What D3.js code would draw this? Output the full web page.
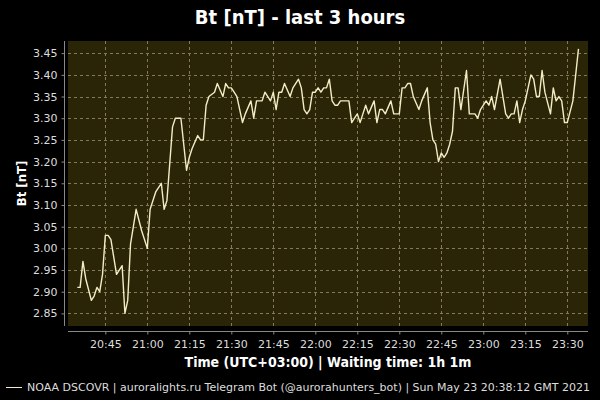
<!DOCTYPE html>
<html>
<head>
<meta charset="utf-8">
<script src="https://cdn.jsdelivr.net/npm/d3@7"></script>
<style>
  html, body { margin: 0; padding: 0; background: #000; }
  svg { display: block; }
</style>
</head>
<body>
<svg id="chart" width="600" height="400"></svg>
<script>
// ---- data ----
const times = ["20:35","20:36","20:37","20:38","20:40","20:41","20:42","20:43","20:44","20:45","20:46","20:47","20:49","20:51","20:52","20:53","20:54","20:56","20:58","21:00","21:01","21:03","21:05","21:06","21:07","21:09","21:10","21:12","21:14","21:15","21:16","21:18","21:19","21:20","21:21","21:22","21:24","21:25","21:27","21:28","21:29","21:30","21:31","21:32","21:34","21:35","21:37","21:38","21:39","21:41","21:42","21:44","21:45","21:46","21:47","21:48","21:49","21:51","21:52","21:54","21:55","21:56","21:57","21:58","21:59","22:00","22:01","22:02","22:03","22:04","22:05","22:06","22:07","22:08","22:09","22:12","22:13","22:14","22:15","22:16","22:17","22:18","22:19","22:21","22:22","22:23","22:24","22:25","22:27","22:28","22:29","22:30","22:31","22:32","22:33","22:34","22:35","22:37","22:38","22:40","22:41","22:42","22:43","22:44","22:45","22:46","22:47","22:48","22:49","22:50","22:51","22:52","22:54","22:55","22:57","22:58","22:59","23:01","23:02","23:03","23:04","23:06","23:08","23:09","23:10","23:11","23:12","23:13","23:14","23:15","23:17","23:18","23:19","23:20","23:21","23:22","23:24","23:25","23:26","23:27","23:28","23:29","23:30","23:32","23:33","23:34"];
const btValues = [2.91,2.91,2.97,2.93,2.88,2.89,2.91,2.90,2.94,3.03,3.03,3.02,2.94,2.96,2.85,2.88,3.01,3.09,3.04,3.00,3.09,3.13,3.15,3.09,3.11,3.28,3.30,3.30,3.18,3.21,3.23,3.26,3.25,3.25,3.33,3.35,3.36,3.38,3.35,3.38,3.37,3.37,3.36,3.35,3.29,3.31,3.34,3.30,3.34,3.34,3.36,3.34,3.36,3.32,3.36,3.36,3.38,3.35,3.37,3.39,3.37,3.32,3.31,3.32,3.36,3.36,3.37,3.36,3.37,3.37,3.39,3.34,3.33,3.33,3.34,3.34,3.29,3.30,3.31,3.29,3.31,3.33,3.31,3.34,3.29,3.32,3.32,3.31,3.34,3.31,3.31,3.31,3.37,3.37,3.38,3.38,3.35,3.32,3.34,3.37,3.29,3.25,3.24,3.20,3.22,3.21,3.22,3.24,3.27,3.37,3.37,3.32,3.41,3.31,3.31,3.30,3.32,3.34,3.33,3.35,3.32,3.39,3.31,3.30,3.31,3.31,3.34,3.29,3.32,3.34,3.40,3.39,3.35,3.35,3.41,3.36,3.31,3.37,3.34,3.35,3.34,3.29,3.29,3.34,3.40,3.46];
const yTicks = [2.85,2.90,2.95,3.00,3.05,3.10,3.15,3.20,3.25,3.30,3.35,3.40,3.45];
const xTicks = ["20:45","21:00","21:15","21:30","21:45","22:00","22:15","22:30","22:45","23:00","23:15","23:30"];
const xDomain = ["20:31:40","23:37:24"];
const yDomain = [2.821, 3.478];
const titleText = "Bt [nT] - last 3 hours";
const xTitle = "Time (UTC+03:00) | Waiting time: 1h 1m";
const yTitle = "Bt [nT]";
const footerText = "NOAA DSCOVR | auroralights.ru Telegram Bot (@aurorahunters_bot) | Sun May 23 20:38:12 GMT 2021";

// ---- helpers ----
const parseHM = d3.timeParse("%Y-%m-%d %H:%M");
const parseHMS = d3.timeParse("%Y-%m-%d %H:%M:%S");
const day = "2021-05-23 ";
const data = times.map((t, i) => ({ t: parseHM(day + t), v: btValues[i] }));

const plot = { left: 68, right: 588, top: 41, bottom: 326 };
const svg = d3.select("#chart");
const font = "'DejaVu Sans', Verdana, sans-serif";
const condFont = "'DejaVu Sans Condensed', 'DejaVu Sans', sans-serif";

svg.append("rect").attr("width", 600).attr("height", 400).attr("fill", "#000");

const x = d3.scaleTime()
  .domain(xDomain.map(s => parseHMS(day + s)))
  .range([plot.left, plot.right]);
const y = d3.scaleLinear().domain(yDomain).range([plot.bottom, plot.top]);

// plot background
svg.append("rect")
  .attr("x", plot.left).attr("y", plot.top)
  .attr("width", plot.right - plot.left).attr("height", plot.bottom - plot.top)
  .attr("fill", "#2b2508");

// grid
const xTickDates = xTicks.map(s => parseHM(day + s));
svg.append("g").selectAll("line").data(yTicks).join("line")
  .attr("x1", plot.left).attr("x2", plot.right)
  .attr("y1", d => Math.round(y(d)) + 0.5).attr("y2", d => Math.round(y(d)) + 0.5)
  .attr("stroke", "#857a55").attr("stroke-width", 1).attr("stroke-dasharray", "3,3");
svg.append("g").selectAll("line").data(xTickDates).join("line")
  .attr("x1", d => Math.round(x(d)) + 0.5).attr("x2", d => Math.round(x(d)) + 0.5)
  .attr("y1", plot.top).attr("y2", plot.bottom)
  .attr("stroke", "#857a55").attr("stroke-width", 1).attr("stroke-dasharray", "3,3");

// axes
const yAxis = d3.axisLeft(y).tickValues(yTicks).tickFormat(d3.format(".2f")).tickSize(3).tickPadding(4);
const gy = svg.append("g").attr("transform", "translate(64.5,0)").call(yAxis);
const xAxis = d3.axisBottom(x).tickValues(xTickDates).tickFormat(d3.timeFormat("%H:%M")).tickSize(3).tickPadding(6);
const gx = svg.append("g").attr("transform", "translate(0,331.5)").call(xAxis);
[gx, gy].forEach(g => {
  g.select(".domain").remove();
  g.selectAll(".tick line").attr("stroke", "#888");
  g.selectAll(".tick text").attr("fill", "#ddd").style("font-family", font).style("font-size", "11px");
});
svg.append("line").attr("x1", 64.5).attr("x2", 64.5).attr("y1", plot.top).attr("y2", plot.bottom)
  .attr("stroke", "#888");
svg.append("line").attr("x1", plot.left).attr("x2", plot.right).attr("y1", 331.5).attr("y2", 331.5)
  .attr("stroke", "#888");

// line
const line = d3.line().x(d => x(d.t)).y(d => y(d.v));
svg.append("path").datum(data).attr("d", line)
  .attr("fill", "none").attr("stroke", "#f3ecc4").attr("stroke-width", 1.4)
  .attr("stroke-linejoin", "round");

// titles
svg.append("text").attr("x", 300).attr("y", 24).attr("text-anchor", "middle")
  .attr("fill", "#fff").style("font-family", condFont).style("font-weight", "bold").style("font-size", "20px")
  .text(titleText);
svg.append("text").attr("x", (plot.left + plot.right) / 2).attr("y", 367).attr("text-anchor", "middle")
  .attr("fill", "#fff").style("font-family", condFont).style("font-weight", "bold").style("font-size", "14px")
  .text(xTitle);
svg.append("text").attr("transform", `translate(26,${(plot.top + plot.bottom) / 2}) rotate(-90)`)
  .attr("text-anchor", "middle")
  .attr("fill", "#fff").style("font-family", condFont).style("font-weight", "bold").style("font-size", "13px")
  .text(yTitle);

// footer legend
svg.append("line").attr("x1", 6).attr("x2", 22).attr("y1", 387.5).attr("y2", 387.5)
  .attr("stroke", "#f3ecc4").attr("stroke-width", 1);
svg.append("text").attr("x", 27).attr("y", 391)
  .attr("fill", "#ddd").style("font-family", font).style("font-size", "11px")
  .text(footerText);
</script>
</body>
</html>
